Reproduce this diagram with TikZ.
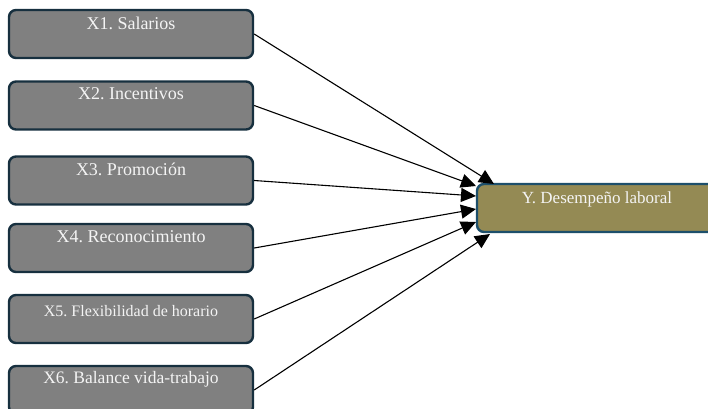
\documentclass[tikz,border=0pt]{standalone}
\usepackage{fontspec}
\setmainfont{Liberation Serif}
\usetikzlibrary{arrows.meta}
\definecolor{xfill}{HTML}{808080}
\definecolor{xborder}{HTML}{17303F}
\definecolor{yfill}{HTML}{948A54}
\definecolor{yborder}{HTML}{1D4F6B}
\definecolor{txt}{HTML}{F4F4F4}
\frenchspacing
\begin{document}
\begin{tikzpicture}[x=1pt,y=-1pt,
  xbox/.style={draw=xborder,fill=xfill,line width=2.4pt,rounded corners=7pt,minimum width=244pt,minimum height=48pt,inner sep=0pt},
  ybox/.style={draw=yborder,fill=yfill,line width=2.4pt,rounded corners=7pt,minimum width=250pt,minimum height=48pt,inner sep=0pt},
  btext/.style={text=txt,inner sep=0pt,font=\fontsize{18}{20}\selectfont},
  conn/.style={draw=black,line width=1.1pt,-{Triangle[length=15pt,width=14pt]}}]
\clip (0,0) rectangle (708,408);
\node[xbox] (x1) at (131,34) {};
\node[xbox] (x2) at (131,105.5) {};
\node[xbox] (x3) at (131,180.5) {};
\node[xbox] (x4) at (131,248) {};
\node[xbox] (x5) at (131,319) {};
\node[xbox] (x6) at (131,390) {};
\node[ybox] (y) at (602,208) {};
\node[btext] (t1) at ([yshift=-15pt]x1.north) {X1. Salarios};
\node[btext] (t2) at ([yshift=-13pt]x2.north) {X2. Incentivos};
\node[btext] (t3) at ([yshift=-14pt]x3.north) {X3. Promoción};
\node[btext] (t4) at ([yshift=-14pt]x4.north) {X4. Reconocimiento};
\node[btext,font=\fontsize{16}{18}\selectfont] (t5) at ([yshift=-17pt]x5.north) {X5. Flexibilidad de horario};
\node[btext,font=\fontsize{17.5}{19}\selectfont] (t6) at ([yshift=-14pt]x6.north) {X6. Balance vida-trabajo};
\node[btext,font=\fontsize{17}{19}\selectfont] (ty) at (597,199) {Y. Desempeño laboral};
\coordinate (e1) at (494,184);
\coordinate (e2) at (476,186);
\coordinate (e3) at (476,196);
\coordinate (e4) at (476,209);
\coordinate (e5) at (476,222);
\coordinate (e6) at (490,234);
\draw[conn] (x1.east) -- (e1);
\draw[conn] (x2.east) -- (e2);
\draw[conn] (x3.east) -- (e3);
\draw[conn] (x4.east) -- (e4);
\draw[conn] (x5.east) -- (e5);
\draw[conn] (x6.east) -- (e6);
\end{tikzpicture}
\end{document}
